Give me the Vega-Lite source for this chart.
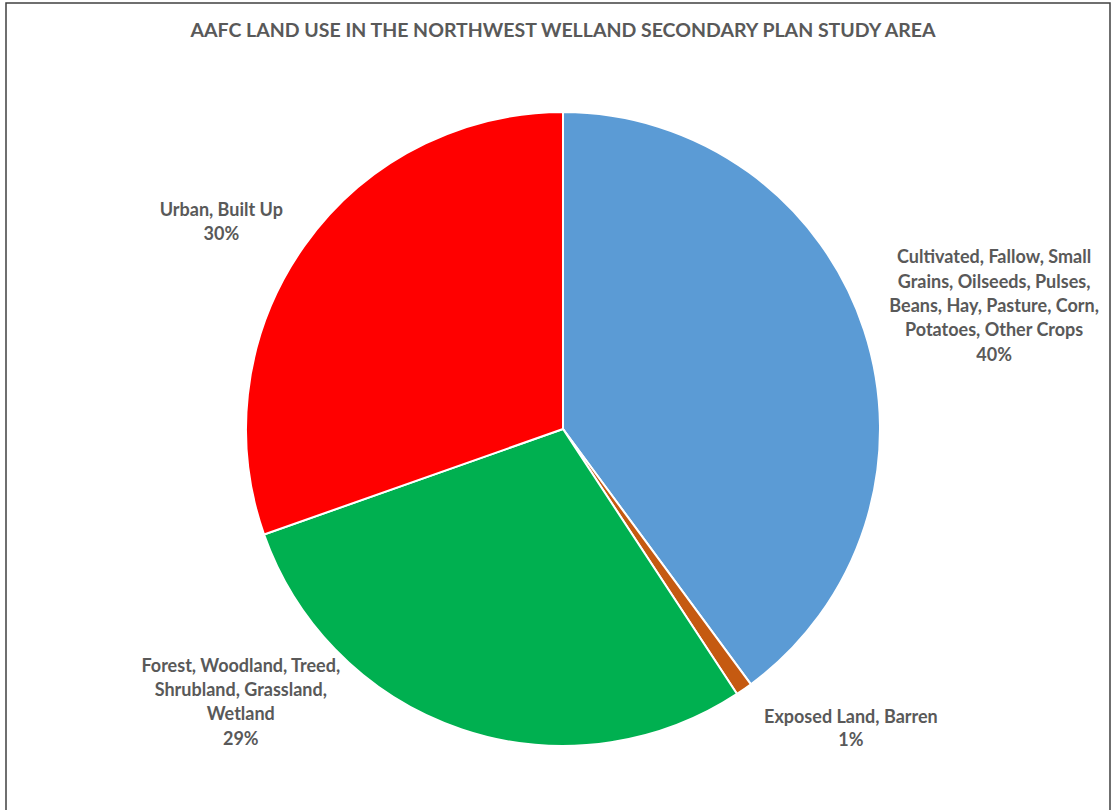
{
  "$schema": "https://vega.github.io/schema/vega-lite/v6.json",
  "width": 1104,
  "height": 852,
  "autosize": {"type": "none"},
  "padding": {"left": 6, "top": 3, "right": 1, "bottom": -45},
  "background": "white",
  "view": {"stroke": "#404040", "strokeWidth": 1.5, "fill": "white"},
  "title": {
    "text": "AAFC LAND USE IN THE NORTHWEST WELLAND SECONDARY PLAN STUDY AREA",
    "font": "Lato",
    "fontSize": 19.5,
    "fontWeight": "bold",
    "color": "#595959",
    "anchor": "middle",
    "dx": 5,
    "offset": -42
  },
  "data": {
    "values": [
      {"category": "Cultivated, Fallow, Small Grains, Oilseeds, Pulses, Beans, Hay, Pasture, Corn, Potatoes, Other Crops", "value": 39.9, "label": "Cultivated, Fallow, Small\nGrains, Oilseeds, Pulses,\nBeans, Hay, Pasture, Corn,\nPotatoes, Other Crops\n40%"},
      {"category": "Exposed Land, Barren", "value": 0.85, "label": "Exposed Land, Barren\n1%"},
      {"category": "Forest, Woodland, Treed, Shrubland, Grassland, Wetland", "value": 28.85, "label": "Forest, Woodland, Treed,\nShrubland, Grassland,\nWetland\n29%"},
      {"category": "Urban, Built Up", "value": 30.4, "label": "Urban, Built Up\n30%"}
    ]
  },
  "encoding": {
    "theta": {"field": "value", "type": "quantitative", "stack": true}
  },
  "layer": [
    {
      "mark": {"type": "arc", "outerRadius": 317, "stroke": "white", "strokeWidth": 2, "xOffset": 5},
      "encoding": {
        "color": {
          "field": "category",
          "type": "nominal",
          "sort": null,
          "scale": {
            "domain": ["Cultivated, Fallow, Small Grains, Oilseeds, Pulses, Beans, Hay, Pasture, Corn, Potatoes, Other Crops", "Exposed Land, Barren", "Forest, Woodland, Treed, Shrubland, Grassland, Wetland", "Urban, Built Up"],
            "range": ["#5B9BD5", "#C55A11", "#00B050", "#FF0000"]
          },
          "legend": null
        },
        "order": {"field": "category", "sort": "ascending"}
      }
    },
    {
      "mark": {"type": "text", "radius": 449, "thetaOffset": 0.034, "xOffset": 5, "dy": -45, "font": "Lato", "fontSize": 18, "fontWeight": "bold", "fill": "#595959", "lineBreak": "\n", "lineHeight": 24.3, "align": "center", "baseline": "middle"},
      "encoding": {
        "order": {"field": "category", "sort": "ascending"},
        "text": {"condition": {"test": "datum.category === 'Cultivated, Fallow, Small Grains, Oilseeds, Pulses, Beans, Hay, Pasture, Corn, Potatoes, Other Crops'", "field": "label"}, "value": ""}
      }
    },
    {
      "mark": {"type": "text", "radius": 414, "thetaOffset": -0.161, "xOffset": 5, "dy": -9, "font": "Lato", "fontSize": 18, "fontWeight": "bold", "fill": "#595959", "lineBreak": "\n", "lineHeight": 23.5, "align": "center", "baseline": "middle"},
      "encoding": {
        "order": {"field": "category", "sort": "ascending"},
        "text": {"condition": {"test": "datum.category === 'Exposed Land, Barren'", "field": "label"}, "value": ""}
      }
    },
    {
      "mark": {"type": "text", "radius": 421.5, "thetaOffset": 0.545, "xOffset": 5, "dy": -34, "font": "Lato", "fontSize": 18, "fontWeight": "bold", "fill": "#595959", "lineBreak": "\n", "lineHeight": 24.3, "align": "center", "baseline": "middle"},
      "encoding": {
        "order": {"field": "category", "sort": "ascending"},
        "text": {"condition": {"test": "datum.category === 'Forest, Woodland, Treed, Shrubland, Grassland, Wetland'", "field": "label"}, "value": ""}
      }
    },
    {
      "mark": {"type": "text", "radius": 400, "thetaOffset": -0.069, "xOffset": 5, "dy": -10, "font": "Lato", "fontSize": 18, "fontWeight": "bold", "fill": "#595959", "lineBreak": "\n", "lineHeight": 24, "align": "center", "baseline": "middle"},
      "encoding": {
        "order": {"field": "category", "sort": "ascending"},
        "text": {"condition": {"test": "datum.category === 'Urban, Built Up'", "field": "label"}, "value": ""}
      }
    }
  ]
}
